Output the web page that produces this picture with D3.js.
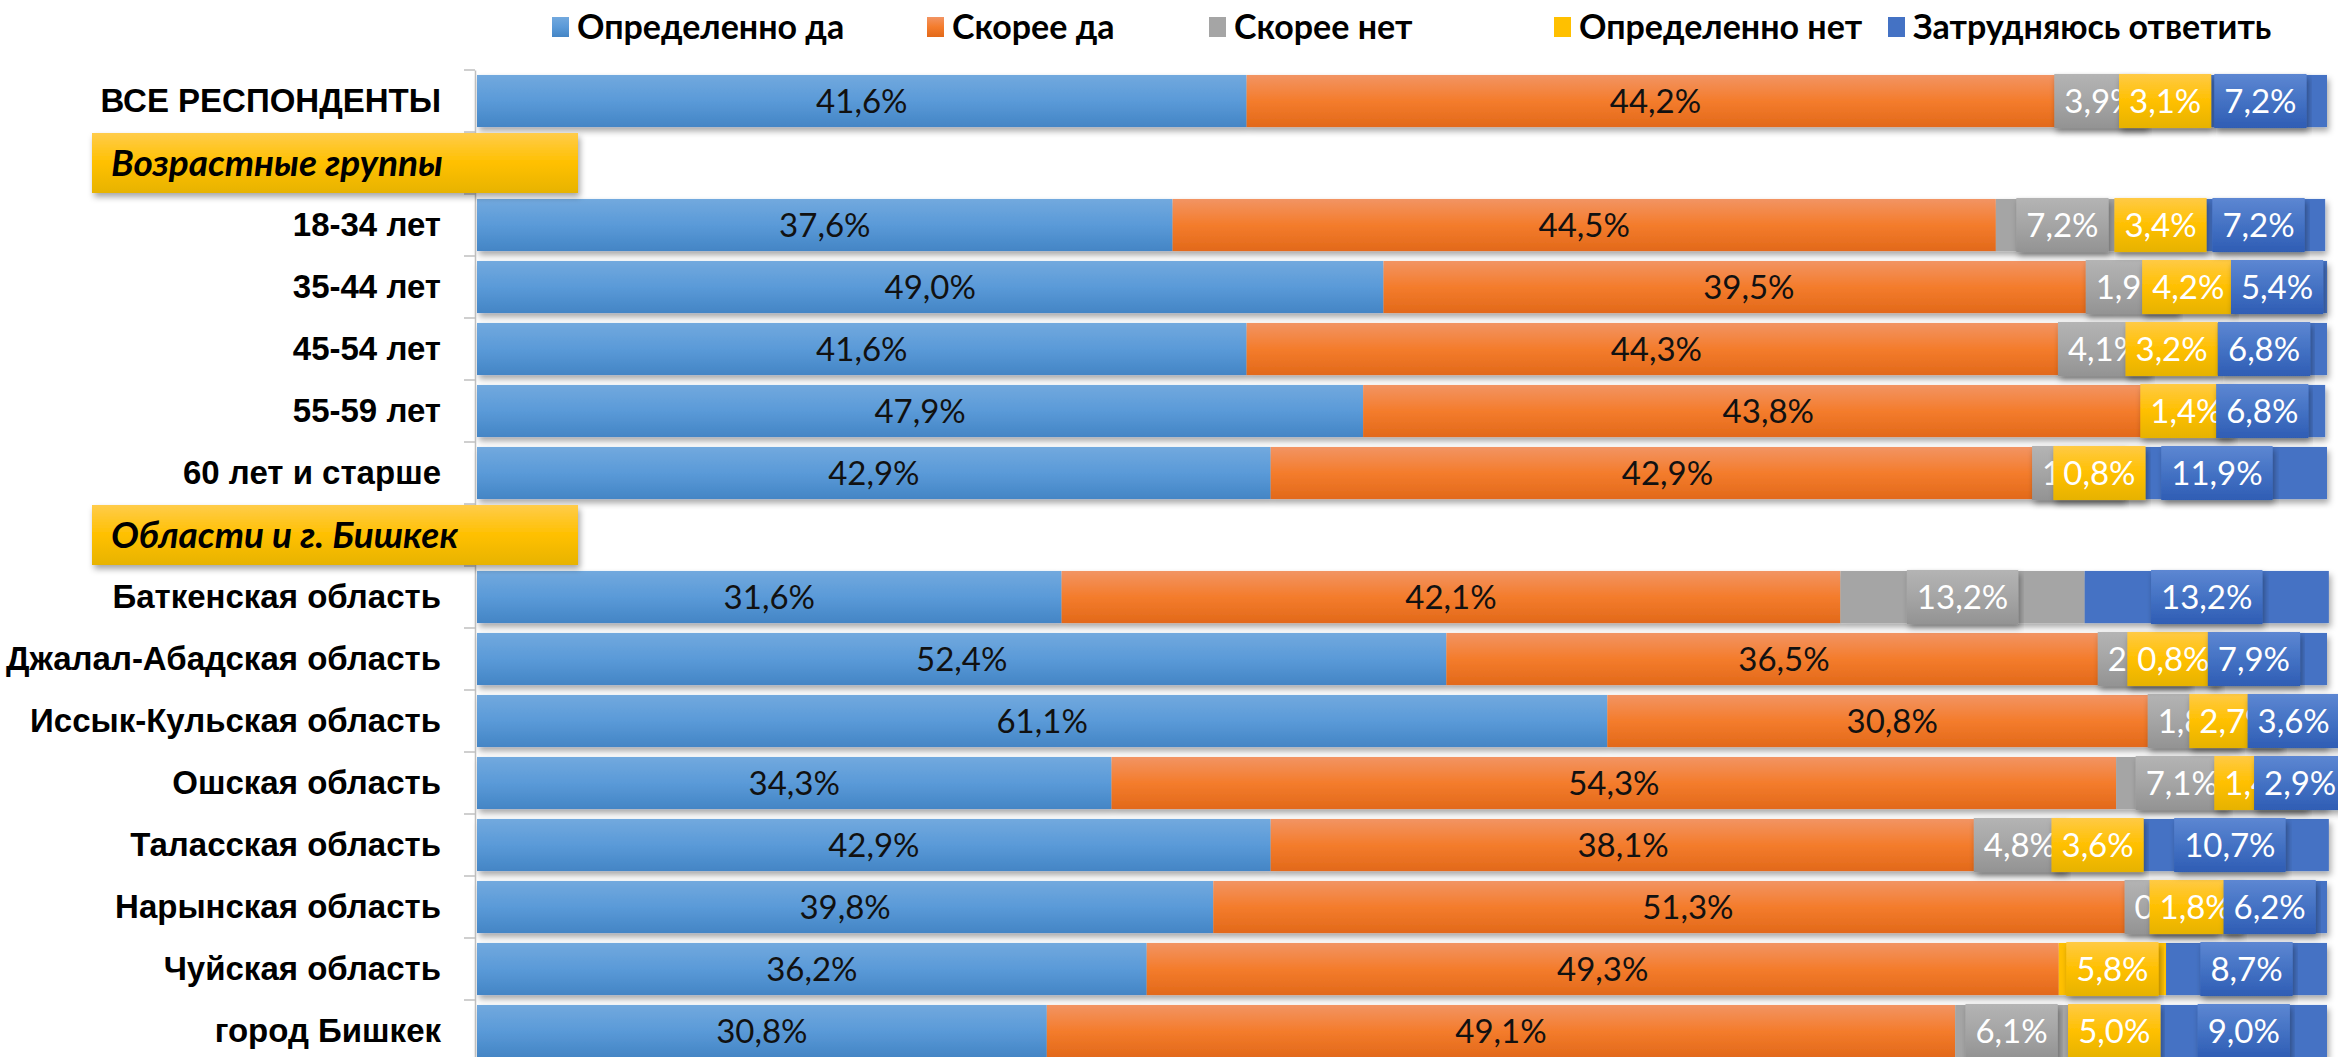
<!DOCTYPE html>
<html>
<head>
<meta charset="utf-8">
<script src="https://cdn.jsdelivr.net/npm/d3@7"></script>
<style>
body { margin: 0; background: #fff; }
svg { display: block; font-family: Lato, "Open Sans", sans-serif; }
</style>
</head>
<body>
<svg id="chart" width="2338" height="1057"></svg>
<script>
// categories, top to bottom (two of them are group headers with no bar)
var categories = ["ВСЕ РЕСПОНДЕНТЫ", "Возрастные группы", "18-34 лет", "35-44 лет", "45-54 лет",
  "55-59 лет", "60 лет и старше", "Области и г. Бишкек", "Баткенская область",
  "Джалал-Абадская область", "Иссык-Кульская область", "Ошская область", "Таласская область",
  "Нарынская область", "Чуйская область", "город Бишкек"];
var headers = ["Возрастные группы", "Области и г. Бишкек"];

var seriesNames = ["Определенно да", "Скорее да", "Скорее нет", "Определенно нет", "Затрудняюсь ответить"];

// values in %, null = header row
var defYes    = [41.6, null, 37.6, 49.0, 41.6, 47.9, 42.9, null, 31.6, 52.4, 61.1, 34.3, 42.9, 39.8, 36.2, 30.8];
var ratherYes = [44.2, null, 44.5, 39.5, 44.3, 43.8, 42.9, null, 42.1, 36.5, 30.8, 54.3, 38.1, 51.3, 49.3, 49.1];
var ratherNo  = [3.9,  null, 7.2,  1.9,  4.1,  0,    1.5,  null, 13.2, 2.4,  1.8,  7.1,  4.8,  0.9,  0,    6.1];
var defNo     = [3.1,  null, 3.4,  4.2,  3.2,  1.4,  0.8,  null, 0,    0.8,  2.7,  1.4,  3.6,  1.8,  5.8,  5.0];
var hard      = [7.2,  null, 7.2,  5.4,  6.8,  6.8,  11.9, null, 13.2, 7.9,  3.6,  2.9,  10.7, 6.2,  8.7,  9.0];

var seriesValues = [defYes, ratherYes, ratherNo, defNo, hard];

// layout
var legendX = [552, 927, 1209, 1554, 1888];
var barFill = ["url(#gBlue)", "url(#gOrange)", "#A5A5A5", "#FFC000", "#4472C4"];
var boxFill = [null, null, "url(#bGray)", "url(#bYellow)", "url(#bBlue)"];

var svg = d3.select("#chart");
var defs = svg.append("defs");

function grad(id, stops) {
  var g = defs.append("linearGradient").attr("id", id)
    .attr("x1", 0).attr("y1", 0).attr("x2", 0).attr("y2", 1);
  stops.forEach(function (s) {
    g.append("stop").attr("offset", s[0]).attr("stop-color", s[1]);
  });
}
grad("gBlue", [[0, "#72A9DE"], [0.5, "#5A9AD8"], [1, "#4485C5"]]);
grad("gOrange", [[0, "#F29463"], [0.5, "#F47C2C"], [1, "#E2691A"]]);
grad("bGray", [[0, "#B4B4B4"], [0.5, "#A5A5A5"], [1, "#939393"]]);
grad("bYellow", [[0, "#FFCA45"], [0.5, "#FFC000"], [1, "#E6B200"]]);
grad("bBlue", [[0, "#5D87D2"], [0.5, "#4472C4"], [1, "#2F5DB4"]]);
grad("hdr", [[0, "#FFCC4A"], [0.5, "#FFC000"], [1, "#E7B300"]]);

var shadow = defs.append("filter").attr("id", "shadow")
  .attr("x", "-5%").attr("y", "-30%").attr("width", "110%").attr("height", "170%");
shadow.append("feDropShadow").attr("dx", 2).attr("dy", 4)
  .attr("stdDeviation", 3).attr("flood-color", "#000").attr("flood-opacity", 0.35);

// scales
var x = d3.scaleLinear().domain([0, 100]).range([477, 2327]);
var y = d3.scaleBand().domain(categories).range([70, 1062])
  .paddingInner(0.16).paddingOuter(0.08);
var step = y.step();

// stack rows
var rows = categories.map(function (c, i) {
  var acc = 0;
  var segs = seriesValues.map(function (arr, s) {
    var v = arr[i];
    var seg = { cat: c, s: s, v: v, x0: acc, x1: acc + (v || 0) };
    acc += (v || 0);
    return seg;
  });
  return { cat: c, header: headers.indexOf(c) >= 0, segs: segs };
});

////////////////////////////// bars //////////////////////////////
var barRows = svg.append("g").selectAll("g")
  .data(rows.filter(function (r) { return !r.header; }))
  .enter().append("g")
  .attr("filter", "url(#shadow)");

barRows.selectAll("rect")
  .data(function (r) { return r.segs.filter(function (d) { return d.v > 0; }); })
  .enter().append("rect")
  .attr("x", function (d) { return x(d.x0); })
  .attr("y", function (d) { return y(d.cat); })
  .attr("width", function (d) { return x(d.x1) - x(d.x0); })
  .attr("height", y.bandwidth())
  .style("fill", function (d) { return barFill[d.s]; });

////////////////////////////// axis //////////////////////////////
var fmt = function (v) { return d3.format(".1f")(v).replace(".", ",") + "%"; };

var axis = svg.append("g")
  .attr("transform", "translate(475,0)")
  .call(d3.axisLeft(y).tickSize(0).tickPadding(34)
    .tickFormat(function (d) { return headers.indexOf(d) >= 0 ? "" : d; }));
axis.select(".domain").attr("stroke", "#BFBFBF").attr("stroke-width", 1.5);
axis.selectAll("text")
  .style("font-size", "33px").style("font-weight", "bold").attr("fill", "#000");

// tick marks between categories
svg.append("g").selectAll("line")
  .data(categories)
  .enter().append("line")
  .attr("x1", 464).attr("x2", 475)
  .attr("y1", function (d) { return y(d) - step * 0.08; })
  .attr("y2", function (d) { return y(d) - step * 0.08; })
  .attr("stroke", "#BFBFBF").attr("stroke-width", 1.5);

////////////////////////////// labels //////////////////////////////
var allSegs = [];
rows.forEach(function (r) { r.segs.forEach(function (d) { if (d.v > 0) allSegs.push(d); }); });

// black labels inside the two big series
svg.append("g").selectAll("text")
  .data(allSegs.filter(function (d) { return d.s < 2; }))
  .enter().append("text")
  .attr("x", function (d) { return x((d.x0 + d.x1) / 2); })
  .attr("y", function (d) { return y(d.cat) + y.bandwidth() / 2; })
  .attr("dy", "0.36em")
  .attr("text-anchor", "middle")
  .style("font-size", "33px")
  .attr("fill", "#111")
  .text(function (d) { return fmt(d.v); });

// boxed white labels for the small series, later series on top
[2, 3, 4].forEach(function (s) {
  var g = svg.append("g").selectAll("g")
    .data(allSegs.filter(function (d) { return d.s === s; }))
    .enter().append("g")
    .attr("transform", function (d) {
      return "translate(" + x((d.x0 + d.x1) / 2) + "," + (y(d.cat) + y.bandwidth() / 2) + ")";
    });
  var t = g.append("text")
    .attr("dy", "0.36em")
    .attr("text-anchor", "middle")
    .style("font-size", "33px")
    .attr("fill", "#fff")
    .text(function (d) { return fmt(d.v); });
  g.insert("rect", "text")
    .attr("filter", "url(#shadow)")
    .each(function () {
      var w = this.parentNode.querySelector("text").getComputedTextLength() + 20;
      d3.select(this).attr("x", -w / 2).attr("width", w);
    })
    .attr("y", -y.bandwidth() / 2 - 1)
    .attr("height", y.bandwidth() + 2)
    .style("fill", boxFill[s]);
});

////////////////////////////// group headers //////////////////////////////
var hdr = svg.append("g").selectAll("g")
  .data(headers)
  .enter().append("g")
  .attr("transform", function (d) { return "translate(92," + (y(d) + y.bandwidth() / 2 - 30) + ")"; });
hdr.append("rect")
  .attr("width", 486).attr("height", 60)
  .attr("filter", "url(#shadow)")
  .style("fill", "url(#hdr)");
hdr.append("text")
  .attr("x", 19).attr("y", 30).attr("dy", "0.36em")
  .style("font-size", "37px").style("font-weight", "bold").style("font-style", "italic")
  .attr("fill", "#000")
  .text(function (d) { return d; });

////////////////////////////// legend //////////////////////////////
var leg = svg.append("g").selectAll("g")
  .data(seriesNames)
  .enter().append("g")
  .attr("transform", function (d, i) { return "translate(" + legendX[i] + ",27)"; });
leg.append("rect")
  .attr("x", 0).attr("y", -10).attr("width", 17).attr("height", 20)
  .style("fill", function (d, i) { return barFill[i]; });
leg.append("text")
  .attr("x", 25).attr("dy", "0.36em")
  .style("font-size", "34px").style("font-weight", "bold")
  .attr("fill", "#000")
  .text(function (d) { return d; });
</script>
</body>
</html>
